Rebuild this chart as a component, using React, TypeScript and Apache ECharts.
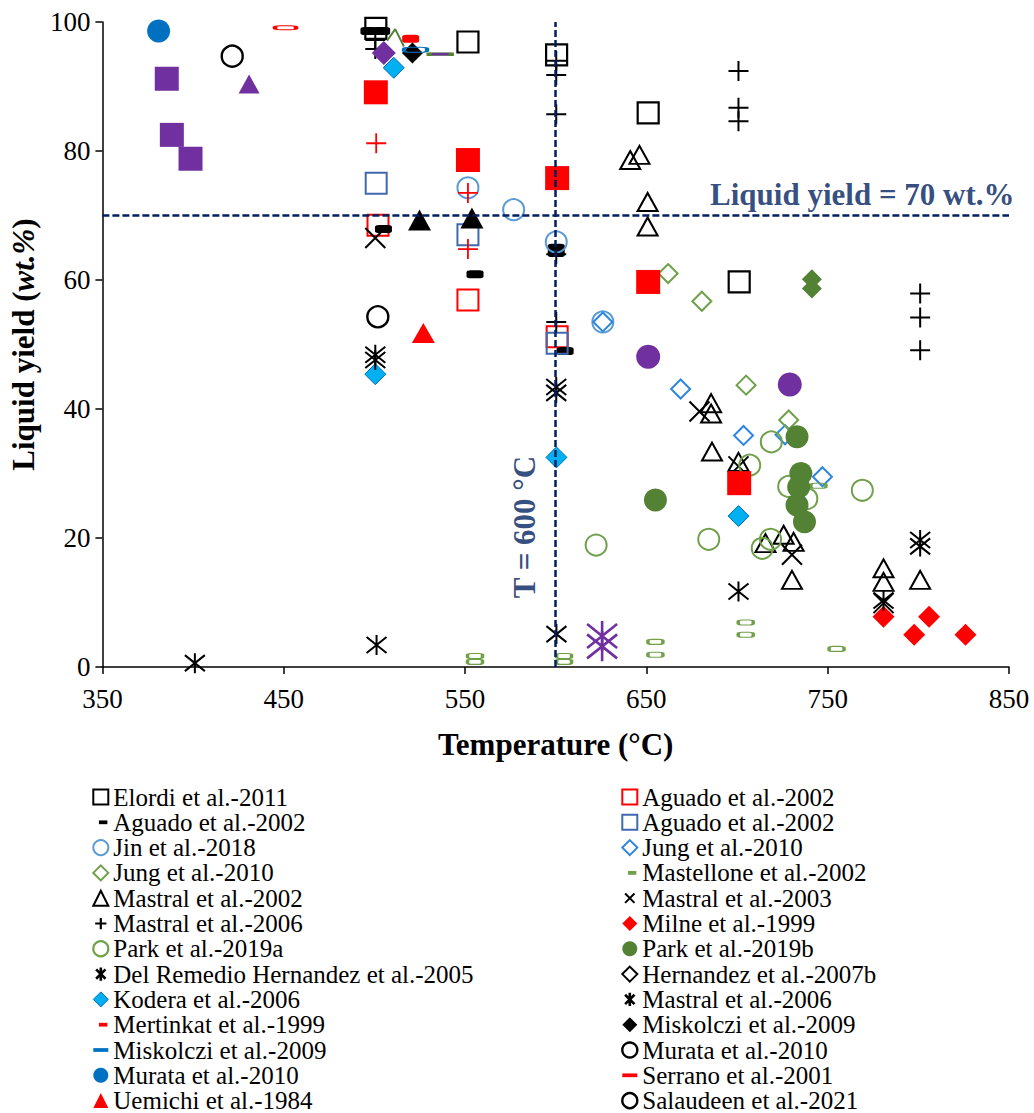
import React, { useEffect, useRef } from "react";
import * as echarts from "echarts";

// ---------- axes ----------
const X_MIN = 350;
const X_MAX = 850;
const X_STEP = 100;
const Y_MIN = 0;
const Y_MAX = 100;
const Y_STEP = 20;
const X_TITLE = "Temperature (°C)";
const H_LINE_VALUE = 70;
const V_LINE_VALUE = 600;
const H_LINE_TEXT = "Liquid yield = 70 wt.%";
const V_LINE_TEXT = "T = 600 °C";
const H_TEXT_AT = [769.1, 73.2];
const V_TEXT_AT = [583.0, 21.7];

// ---------- data: [temperature °C, liquid yield wt.%] ----------
const elordi2011 = [[500.8, 99.0], [551.6, 96.9], [600.5, 94.9], [651, 85.9], [701.2, 59.7]];
const aguadoRed2002 = [[502, 68.5], [551.6, 56.9], [600.8, 51.2]];
const aguadoDash2002 = [[497, 98.6], [504, 98.6], [505, 67.9], [555.5, 60.9], [600.3, 65.0], [600.3, 64.2], [605.2, 49.0]];
const aguadoBlue2002 = [[501, 75.0], [551.6, 67.0], [600.8, 50.2]];
const jin2018 = [[551.6, 74.3], [576.8, 70.9], [600.3, 65.9], [626, 53.5]];
const jungBlue2010 = [[626, 53.5], [668.9, 43.1], [703.6, 35.9], [726.5, 36.0], [747.1, 29.5]];
const jungGreen2010 = [[662, 61.0], [680.6, 56.7], [705, 43.7], [728.5, 38.3]];
const mastellone2002 = [[555.5, 1.7], [555.5, 0.8], [604.6, 1.7], [604.6, 0.8], [655, 3.9], [655, 1.9], [704.8, 6.9], [704.8, 5.0], [744.9, 28.1], [754.9, 2.8]];
const mastral2002 = [[641.1, 78.6], [646.2, 79.4], [650.7, 72.1], [650.7, 68.3], [685.7, 40.9], [685.7, 39.3], [686.2, 33.4], [700.8, 31.8], [715.7, 19.2], [725.7, 20.5], [731.2, 19.4], [730.3, 13.5], [780.8, 15.3], [780.8, 13.2], [801, 13.5], [850.5, 16.1], [850.5, 15.1], [850.5, 12.2], [850.5, 11.2]];
const mastral2003 = [[500.5, 66.5], [679.3, 39.6], [700.8, 31.1], [730.3, 17.4], [780.8, 9.9], [850.5, 16.4]];
const mastral2006Plus = [[500.5, 97.2], [500.5, 95.8], [600.3, 94.0], [600.3, 91.8], [600.3, 85.7], [600.3, 64.0], [600.3, 53.5], [700.8, 92.4], [700.8, 86.7], [700.8, 84.6], [801, 57.9], [801, 54.2], [801, 49.1]];
const milne1999 = [[780.8, 7.8], [797.7, 5.0], [805.9, 7.8], [826, 5.0]];
const park2019a = [[622.3, 18.9], [684.4, 19.8], [707, 31.3], [713.9, 18.4], [718.5, 19.8], [718.9, 34.9], [728.5, 28.0], [738.5, 26.1], [769.1, 27.4]];
const park2019b = [[655, 25.9], [733.1, 35.7], [735.2, 30.0], [734, 27.9], [733.1, 25.1], [737.2, 22.5]];
const delRemedio2005 = [[401, 0.6], [501.2, 3.4], [600.4, 5.1], [700.8, 11.7]];
const hernandez2007b: number[][] = [];
const kodera2006 = [[510.7, 92.9], [500.5, 45.4], [600.4, 32.5], [700.8, 23.4]];
const mastral2006Star = [[500.5, 48.4], [500.5, 47.6], [600.3, 43.4], [600.3, 42.5], [780.8, 10.3], [801, 19.7], [801, 18.7]];
const mertinkat1999 = [[520, 97.4]];
const miskolcziBlack2009 = [[521, 95.2]];
const miskolcziBlue2009 = [[522.7, 95.7]];
const murataOpen2010 = [[421.6, 94.7], [501.9, 54.3]];
const murataBlue2010 = [[381, 98.6]];
const serrano2001 = [[451, 99.1]];
const uemichi1984 = [[527, 51.8]];
const salaudeen2021: number[][] = [];

// points without a legend entry
const purpleSquares = [[385.5, 91.2], [388.3, 82.5], [398.6, 78.8]];
const purpleTriangles = [[430.9, 90.4]];
const purpleDiamonds = [[505.2, 95.2]];
const purpleCircles = [[651, 48.1], [729.1, 43.8]];
const purpleStars = [[625.6, 4.8], [625.6, 3.2]];
const blackTriangles = [[524.9, 69.3], [553.8, 69.6]];
const redSquares = [[500.8, 89.1], [551.6, 78.6], [600.8, 75.8], [651, 59.7], [701.2, 28.5]];
const redPlus = [[501, 81.2], [551.6, 73.5], [551.6, 64.8]];
const greenDiamonds = [[741.3, 60.1], [741.3, 58.7]];
const greenBar = [[536.3, 95.0]];
const greenLine = [[507, 97.1], [511.5, 98.9], [516.3, 96.2]];

// ---------- styles ----------
const FONT = "Liberation Serif";
const NAVY = "#002060";
const NONE = "rgba(0,0,0,0)";
const P_PLUS = "path://M0,10L20,10M10,0L10,20";
const P_CROSS = "path://M0,0L20,20M20,0L0,20";
const P_STAR = "path://M2,2L18,18M18,2L2,18M10,0L10,20";
const L_PLUS = "path://M0,0M16,16M2,8L14,8M8,2L8,14";
const L_CROSS = "path://M0,0M16,16M3,3L13,13M13,3L3,13";
const L_STAR = "path://M0,0M16,16M3,3L13,13M13,3L3,13M8,1L8,15";
const L_DASH = "path://M0,0M16,16M6,6H15V10H6Z";
const L_BAR = "path://M0,0M16,16M0,6H16V10H0Z";

type Spec = {
  id: string;
  label?: string;
  data: number[][];
  symbol: string;
  size: number | number[];
  fill: string;
  stroke?: string;
  lw?: number;
  icon?: string;
  iFill?: string;
  iStroke?: string;
  iLw?: number;
};

const BLACK = "#000000";
const RED = "#FF0000";
const GREEN_L = "#70A04A";
const GREEN_D = "#548235";
const PURPLE = "#7030A0";

const legendSpecs: Spec[] = [
  { id: "s1", label: "Elordi et al.-2011", data: elordi2011, symbol: "rect", size: 21, fill: NONE, stroke: BLACK, lw: 2.2, icon: "rect", iFill: NONE, iStroke: BLACK, iLw: 2 },
  { id: "s2", label: "Aguado et al.-2002", data: aguadoRed2002, symbol: "rect", size: 21, fill: NONE, stroke: RED, lw: 2, icon: "rect", iFill: NONE, iStroke: RED, iLw: 2 },
  { id: "s3", label: "Aguado et al.-2002", data: aguadoDash2002, symbol: "roundRect", size: [17, 8], fill: BLACK, icon: L_DASH, iFill: BLACK },
  { id: "s4", label: "Aguado et al.-2002", data: aguadoBlue2002, symbol: "rect", size: 21, fill: NONE, stroke: "#4169B0", lw: 2, icon: "rect", iFill: NONE, iStroke: "#4169B0", iLw: 2 },
  { id: "s5", label: "Jin et al.-2018", data: jin2018, symbol: "circle", size: 21, fill: NONE, stroke: "#5B9BD5", lw: 2, icon: "circle", iFill: NONE, iStroke: "#5B9BD5", iLw: 2 },
  { id: "s6", label: "Jung et al.-2010", data: jungBlue2010, symbol: "diamond", size: 19, fill: NONE, stroke: "#2E86DE", lw: 2, icon: "diamond", iFill: NONE, iStroke: "#2E86DE", iLw: 2 },
  { id: "s7", label: "Jung et al.-2010", data: jungGreen2010, symbol: "diamond", size: 19, fill: NONE, stroke: GREEN_L, lw: 2, icon: "diamond", iFill: NONE, iStroke: GREEN_L, iLw: 2 },
  { id: "s8", label: "Mastellone et al.-2002", data: mastellone2002, symbol: "roundRect", size: [15, 5], fill: NONE, stroke: GREEN_L, lw: 2, icon: L_DASH, iFill: GREEN_L },
  { id: "s9", label: "Mastral et al.-2002", data: mastral2002, symbol: "triangle", size: [20, 18], fill: NONE, stroke: BLACK, lw: 2, icon: "triangle", iFill: NONE, iStroke: BLACK, iLw: 2 },
  { id: "s10", label: "Mastral et al.-2003", data: mastral2003, symbol: P_CROSS, size: 20, fill: NONE, stroke: BLACK, lw: 2, icon: L_CROSS, iFill: NONE, iStroke: BLACK, iLw: 2 },
  { id: "s11", label: "Mastral et al.-2006", data: mastral2006Plus, symbol: P_PLUS, size: 20, fill: NONE, stroke: BLACK, lw: 2, icon: L_PLUS, iFill: NONE, iStroke: BLACK, iLw: 2.2 },
  { id: "s12", label: "Milne et al.-1999", data: milne1999, symbol: "diamond", size: 22, fill: RED, icon: "diamond", iFill: RED },
  { id: "s13", label: "Park et al.-2019a", data: park2019a, symbol: "circle", size: 21, fill: NONE, stroke: GREEN_L, lw: 2, icon: "circle", iFill: NONE, iStroke: GREEN_L, iLw: 2.2 },
  { id: "s14", label: "Park et al.-2019b", data: park2019b, symbol: "circle", size: 23, fill: GREEN_D, icon: "circle", iFill: GREEN_D },
  { id: "s15", label: "Del Remedio Hernandez et al.-2005", data: delRemedio2005, symbol: P_STAR, size: 20, fill: NONE, stroke: BLACK, lw: 2, icon: L_STAR, iFill: NONE, iStroke: BLACK, iLw: 2.6 },
  { id: "s16", label: "Hernandez et al.-2007b", data: hernandez2007b, symbol: "diamond", size: 19, fill: NONE, stroke: BLACK, lw: 2, icon: "diamond", iFill: NONE, iStroke: BLACK, iLw: 2 },
  { id: "s17", label: "Kodera et al.-2006", data: kodera2006, symbol: "diamond", size: 21, fill: "#00B0F0", stroke: "#0070C0", lw: 1, icon: "diamond", iFill: "#00B0F0", iStroke: "#0070C0", iLw: 1 },
  { id: "s18", label: "Mastral et al.-2006", data: mastral2006Star, symbol: P_STAR, size: 20, fill: NONE, stroke: BLACK, lw: 2, icon: L_STAR, iFill: NONE, iStroke: BLACK, iLw: 2.6 },
  { id: "s19", label: "Mertinkat et al.-1999", data: mertinkat1999, symbol: "roundRect", size: [17, 8], fill: RED, icon: L_DASH, iFill: RED },
  { id: "s20", label: "Miskolczi et al.-2009", data: miskolcziBlack2009, symbol: "diamond", size: 21, fill: BLACK, icon: "diamond", iFill: BLACK },
  { id: "s21", label: "Miskolczi et al.-2009", data: miskolcziBlue2009, symbol: "roundRect", size: [23, 5], fill: NONE, stroke: "#0070C0", lw: 2, icon: L_BAR, iFill: "#0070C0" },
  { id: "s22", label: "Murata et al.-2010", data: murataOpen2010, symbol: "circle", size: 21, fill: NONE, stroke: BLACK, lw: 2.4, icon: "circle", iFill: NONE, iStroke: BLACK, iLw: 2.4 },
  { id: "s23", label: "Murata et al.-2010", data: murataBlue2010, symbol: "circle", size: 23, fill: "#0070C0", icon: "circle", iFill: "#0070C0" },
  { id: "s24", label: "Serrano et al.-2001", data: serrano2001, symbol: "roundRect", size: [21, 4], fill: NONE, stroke: RED, lw: 2, icon: L_BAR, iFill: RED },
  { id: "s25", label: "Uemichi et al.-1984", data: uemichi1984, symbol: "triangle", size: [23, 20], fill: RED, icon: "triangle", iFill: RED },
  { id: "s26", label: "Salaudeen et al.-2021", data: salaudeen2021, symbol: "circle", size: 21, fill: NONE, stroke: BLACK, lw: 2.4, icon: "circle", iFill: NONE, iStroke: BLACK, iLw: 2.4 },
];

const extraSpecs: Spec[] = [
  { id: "x1", data: purpleSquares, symbol: "rect", size: 24, fill: PURPLE },
  { id: "x2", data: purpleTriangles, symbol: "triangle", size: [21, 19], fill: PURPLE },
  { id: "x3", data: greenDiamonds, symbol: "diamond", size: 20, fill: GREEN_D },
  { id: "x4", data: greenBar, symbol: "rect", size: [22, 3], fill: PURPLE, stroke: GREEN_D, lw: 2 },
  { id: "x5", data: purpleDiamonds, symbol: "diamond", size: 24, fill: PURPLE },
  { id: "x6", data: purpleCircles, symbol: "circle", size: 24, fill: PURPLE },
  { id: "x7", data: purpleStars, symbol: P_STAR, size: 30, fill: NONE, stroke: PURPLE, lw: 2.6 },
  { id: "x8", data: blackTriangles, symbol: "triangle", size: [23, 21], fill: BLACK },
  { id: "x9", data: redPlus, symbol: P_PLUS, size: 20, fill: NONE, stroke: RED, lw: 1.8 },
  { id: "x10", data: redSquares, symbol: "rect", size: 24, fill: RED },
];

function toSeries(s: Spec) {
  return {
    type: "scatter",
    name: s.id,
    data: s.data,
    symbol: s.symbol,
    symbolSize: s.size,
    itemStyle: { color: s.fill, borderColor: s.stroke || s.fill, borderWidth: s.lw || 0, opacity: 1 },
    emphasis: { disabled: true },
    silent: true,
  };
}

function legendItem(s: Spec) {
  return {
    name: s.id,
    icon: s.icon,
    itemStyle: {
      color: s.iFill,
      borderColor: s.iStroke || s.iFill,
      borderWidth: s.iLw || 0,
      opacity: 1,
    },
  };
}

const labelOf: Record<string, string> = {};
legendSpecs.forEach((s) => (labelOf[s.id] = s.label || s.id));

export default function App() {
  const ref = useRef<HTMLDivElement>(null);
  useEffect(() => {
    if (!ref.current) return;
    const chart = echarts.init(ref.current, undefined, { renderer: "svg" });
    const leftCol = legendSpecs.filter((_, i) => i % 2 === 0);
    const rightCol = legendSpecs.filter((_, i) => i % 2 === 1);
    const legendBase = {
      type: "plain",
      orient: "vertical",
      top: 779.5,
      height: 420,
      width: 420,
      itemWidth: 15,
      itemHeight: 15,
      itemGap: 0.3,
      padding: 5,
      selectedMode: false,
      symbolKeepAspect: true,
      textStyle: { fontFamily: FONT, fontSize: 25, color: "#000" },
      formatter: (n: string) => labelOf[n] || n,
    };
    const option: any = {
      animation: false,
      backgroundColor: "#ffffff",
      grid: { left: 94, right: 25, top: 22, bottom: 446 },
      xAxis: {
        type: "value",
        min: X_MIN,
        max: X_MAX,
        interval: X_STEP,
        name: X_TITLE,
        nameLocation: "middle",
        nameGap: 62,
        nameTextStyle: { fontFamily: FONT, fontSize: 31, fontWeight: "bold", color: "#000" },
        axisLine: { show: true, onZero: false, lineStyle: { color: "#000", width: 1.5 } },
        axisTick: { show: true, inside: false, length: 7, lineStyle: { color: "#000", width: 1.5 } },
        axisLabel: { fontFamily: FONT, fontSize: 27, color: "#000", margin: 18 },
        splitLine: { show: false },
      },
      yAxis: {
        type: "value",
        min: Y_MIN,
        max: Y_MAX,
        interval: Y_STEP,
        name: "{b|Liquid yield (}{bi|wt.%}{b|)}",
        nameLocation: "middle",
        nameGap: 48,
        nameTextStyle: {
          color: "#000",
          rich: {
            b: { fontFamily: FONT, fontSize: 31, fontWeight: "bold", color: "#000" },
            bi: { fontFamily: FONT, fontSize: 31, fontWeight: "bold", fontStyle: "italic", color: "#000" },
          },
        },
        axisLine: { show: true, onZero: false, lineStyle: { color: "#000", width: 1.5 } },
        axisTick: { show: true, inside: false, length: 7, lineStyle: { color: "#000", width: 1.5 } },
        axisLabel: { fontFamily: FONT, fontSize: 27, color: "#000", margin: 12 },
        splitLine: { show: false },
      },
      legend: [
        { ...legendBase, left: 87, data: leftCol.map(legendItem) },
        { ...legendBase, left: 616, data: rightCol.map(legendItem) },
      ],
      series: [
        {
          type: "scatter",
          name: "annotations",
          symbolSize: 1,
          itemStyle: { color: NONE },
          silent: true,
          z: 1,
          data: [
            {
              value: H_TEXT_AT,
              label: { show: true, position: "inside", formatter: H_LINE_TEXT, rotate: 0 },
            },
            {
              value: V_TEXT_AT,
              label: { show: true, position: "inside", formatter: V_LINE_TEXT, rotate: 90 },
            },
          ],
          label: { fontFamily: FONT, fontSize: 31, fontWeight: "bold", color: NAVY },
          markLine: {
            silent: true,
            symbol: "none",
            label: { show: false },
            lineStyle: { color: NAVY, width: 2.5, type: [7, 3] },
            data: [{ xAxis: V_LINE_VALUE }, { yAxis: H_LINE_VALUE }],
          },
        },
        {
          type: "line",
          name: "greenLine",
          data: greenLine,
          symbol: "none",
          lineStyle: { color: GREEN_D, width: 2 },
          silent: true,
        },
        ...legendSpecs.map(toSeries),
        ...extraSpecs.map(toSeries),
      ],
    };
    chart.setOption(option);
    return () => chart.dispose();
  }, []);
  return (
    <div
      ref={ref}
      style={{ position: "absolute", left: 0, top: 0, width: 1034, height: 1113 }}
    />
  );
}
